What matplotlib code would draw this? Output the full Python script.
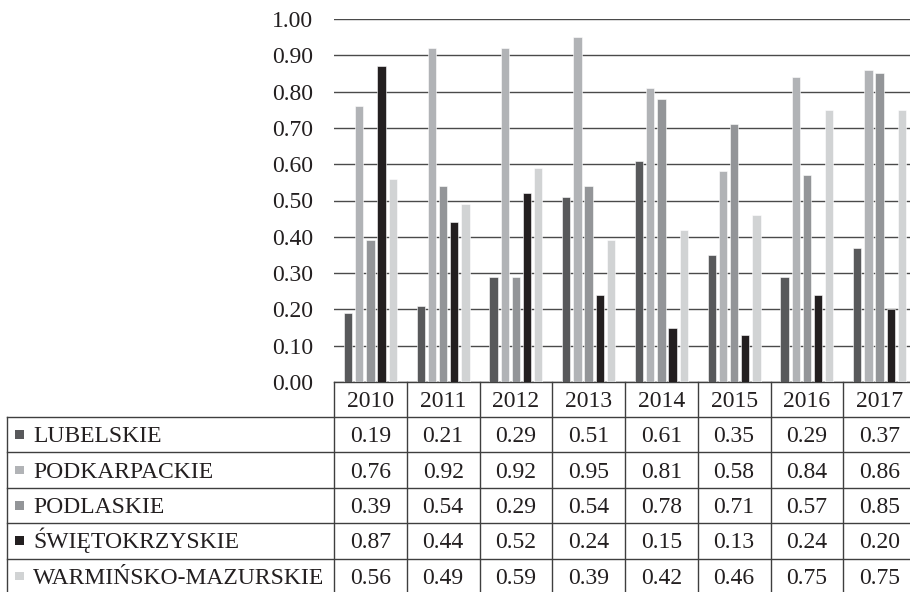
import matplotlib
matplotlib.use("Agg")
import matplotlib.pyplot as plt
from matplotlib.transforms import blended_transform_factory
from matplotlib.patches import Rectangle

plt.rcParams['font.family'] = ['Liberation Serif', 'DejaVu Serif']

years = ['2010', '2011', '2012', '2013', '2014', '2015', '2016', '2017']
regions = ['LUBELSKIE', 'PODKARPACKIE', 'PODLASKIE', 'ŚWIĘTOKRZYSKIE', 'WARMIŃSKO-MAZURSKIE']
lubelskie = [0.19, 0.21, 0.29, 0.51, 0.61, 0.35, 0.29, 0.37]
podkarpackie = [0.76, 0.92, 0.92, 0.95, 0.81, 0.58, 0.84, 0.86]
podlaskie = [0.39, 0.54, 0.29, 0.54, 0.78, 0.71, 0.57, 0.85]
swietokrzyskie = [0.87, 0.44, 0.52, 0.24, 0.15, 0.13, 0.24, 0.20]
warminsko = [0.56, 0.49, 0.59, 0.39, 0.42, 0.46, 0.75, 0.75]
yticks = [0.0, 0.1, 0.2, 0.3, 0.4, 0.5, 0.6, 0.7, 0.8, 0.9, 1.0]

series = [lubelskie, podkarpackie, podlaskie, swietokrzyskie, warminsko]
colors = ['#58595b', '#b1b3b6', '#939598', '#231f20', '#d1d3d4']

W, H = 910, 592
FS = 17
TXT = '#231f20'
LINE = '#3f3f3f'

fig = plt.figure(figsize=(W / 100, H / 100), dpi=100)

# pixel-space overlay used for the data table
tab = fig.add_axes([0, 0, 1, 1], zorder=0)
tab.set_xlim(0, W)
tab.set_ylim(H, 0)
tab.axis('off')

# chart area (extends slightly past the right edge, so the last column is clipped)
x0, x1, ytop, ybot = 334, 916, 19, 382
ax = fig.add_axes([x0 / W, 1 - ybot / H, (x1 - x0) / W, (ybot - ytop) / H], zorder=1)
ax.patch.set_alpha(0)
n = len(years)
ax.set_xlim(0, n)
ax.set_ylim(0, 1.0)
for s in ax.spines.values():
    s.set_visible(False)
ax.set_xticks([])
ax.set_yticks(yticks)
ax.set_yticklabels([f'{v:.2f}' for v in yticks], fontsize=FS, color=TXT)
ax.tick_params(axis='y', length=0, pad=15)
ax.yaxis.grid(True, color='#4a4a4a', linewidth=1.0)
ax.set_axisbelow(True)

bw, pitch = 0.114, 0.154
for k, (vals, c) in enumerate(zip(series, colors)):
    xs = [i + 0.5 + (k - 2) * pitch for i in range(n)]
    ax.bar(xs, vals, width=bw, color=c, edgecolor='white', linewidth=0.4, zorder=2)

# data table below the chart
bt = blended_transform_factory(ax.transData, tab.transData)
row_h = 35.4
header_bottom = 417
row_tops = [header_bottom + r * row_h for r in range(len(regions) + 1)]
table_left = 7

tab.plot([x0, W + 10], [ybot, ybot], color=LINE, lw=1.0, clip_on=False)
for yl in row_tops:
    tab.plot([table_left, W + 10], [yl, yl], color=LINE, lw=1.0, clip_on=False)
tab.plot([table_left, table_left], [header_bottom, H + 10], color=LINE, lw=1.0, clip_on=False)
for i in range(n + 1):
    tab.plot([i, i], [ybot, H + 10], color=LINE, lw=1.0, transform=bt, clip_on=False)

for i, yr in enumerate(years):
    tab.text(i + 0.5, (ybot + header_bottom) / 2 + 7.5, yr, transform=bt,
             ha='center', va='baseline', fontsize=FS, color=TXT)

for r, (name, vals, c) in enumerate(zip(regions, series, colors)):
    yc = row_tops[r] + row_h / 2
    tab.add_patch(Rectangle((15, yc - 4.5), 8.5, 8.5, facecolor=c, edgecolor='none'))
    tab.text(33, yc + 7.5, name, ha='left', va='baseline', fontsize=FS, color=TXT)
    for i, v in enumerate(vals):
        tab.text(i + 0.5, yc + 7.5, f'{v:.2f}', transform=bt,
                 ha='center', va='baseline', fontsize=FS, color=TXT)

fig.savefig('out.png', dpi=100)
